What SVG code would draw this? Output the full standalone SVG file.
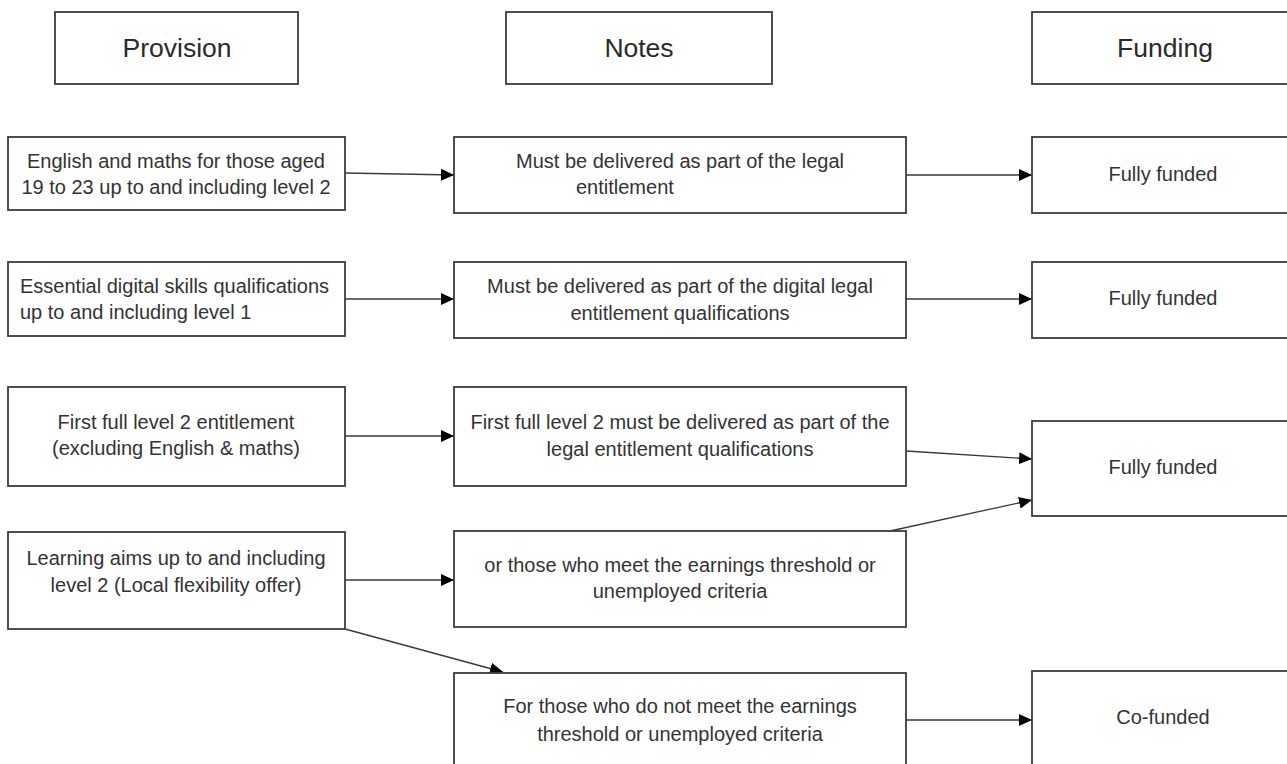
<svg xmlns="http://www.w3.org/2000/svg" width="1287" height="764" viewBox="0 0 1287 764">
<style>
  .box { fill: #ffffff; stroke: #3c3c3c; stroke-width: 1.8; }
  .t { font-family: "Liberation Sans", Arial, sans-serif; font-size: 20px; fill: #333333; text-anchor: middle; }
  .ts { font-family: "Liberation Sans", Arial, sans-serif; font-size: 20px; fill: #333333; text-anchor: start; }
  .h { font-family: "Liberation Sans", Arial, sans-serif; font-size: 26.5px; fill: #2a2a2a; text-anchor: middle; }
  .c { stroke: #3a3a3a; stroke-width: 1.3; fill: none; marker-end: url(#ah); }
</style>
<defs>
  <marker id="ah" markerUnits="userSpaceOnUse" markerWidth="14" markerHeight="12" refX="13" refY="6" orient="auto">
    <path d="M0,0 L13,6 L0,12 Z" fill="#000000"/>
  </marker>
</defs>
<rect width="1287" height="764" fill="#ffffff"/>

<g id="connectors">
  <line class="c" x1="345" y1="173" x2="454" y2="175"/>
  <line class="c" x1="906" y1="175" x2="1032" y2="175"/>
  <line class="c" x1="345" y1="299" x2="454" y2="299"/>
  <line class="c" x1="906" y1="299" x2="1032" y2="299"/>
  <line class="c" x1="345" y1="436" x2="454" y2="436"/>
  <line class="c" x1="906" y1="451" x2="1032" y2="459"/>
  <line class="c" x1="345" y1="580" x2="454" y2="580"/>
  <line class="c" x1="890" y1="531" x2="1032" y2="500"/>
  <line class="c" x1="345" y1="629" x2="503" y2="672"/>
  <line class="c" x1="906" y1="720" x2="1032" y2="720"/>
</g>

<g id="header-provision">
  <rect class="box" x="55" y="12" width="243" height="72"/>
  <text class="h" x="177" y="57">Provision</text>
</g>
<g id="header-notes">
  <rect class="box" x="506" y="12" width="266" height="72"/>
  <text class="h" x="639" y="57">Notes</text>
</g>
<g id="header-funding">
  <rect class="box" x="1032" y="12" width="270" height="72"/>
  <text class="h" x="1165" y="57">Funding</text>
</g>

<g id="prov-1">
  <rect class="box" x="8" y="137" width="337" height="73"/>
  <text class="t" x="176" y="168">English and maths for those aged</text>
  <text class="t" x="176" y="194">19 to 23 up to and including level 2</text>
</g>
<g id="notes-1">
  <rect class="box" x="454" y="137" width="452" height="76"/>
  <text class="t" x="680" y="168">Must be delivered as part of the legal</text>
  <text class="ts" x="576" y="194">entitlement</text>
</g>
<g id="fund-1">
  <rect class="box" x="1032" y="137" width="270" height="76"/>
  <text class="t" x="1163" y="181">Fully funded</text>
</g>

<g id="prov-2">
  <rect class="box" x="8" y="262" width="337" height="74"/>
  <text class="ts" x="20" y="293">Essential digital skills qualifications</text>
  <text class="ts" x="20" y="319">up to and including level 1</text>
</g>
<g id="notes-2">
  <rect class="box" x="454" y="262" width="452" height="76"/>
  <text class="t" x="680" y="293">Must be delivered as part of the digital legal</text>
  <text class="t" x="680" y="320">entitlement qualifications</text>
</g>
<g id="fund-2">
  <rect class="box" x="1032" y="262" width="270" height="76"/>
  <text class="t" x="1163" y="305">Fully funded</text>
</g>

<g id="prov-3">
  <rect class="box" x="8" y="387" width="337" height="99"/>
  <text class="t" x="176" y="429">First full level 2 entitlement</text>
  <text class="t" x="176" y="455">(excluding English &amp; maths)</text>
</g>
<g id="notes-3">
  <rect class="box" x="454" y="387" width="452" height="99"/>
  <text class="t" x="680" y="429">First full level 2 must be delivered as part of the</text>
  <text class="t" x="680" y="456">legal entitlement qualifications</text>
</g>
<g id="fund-3">
  <rect class="box" x="1032" y="421" width="270" height="95"/>
  <text class="t" x="1163" y="474">Fully funded</text>
</g>

<g id="prov-4">
  <rect class="box" x="8" y="532" width="337" height="97"/>
  <text class="t" x="176" y="565">Learning aims up to and including</text>
  <text class="t" x="176" y="592">level 2 (Local flexibility offer)</text>
</g>
<g id="notes-4">
  <rect class="box" x="454" y="531" width="452" height="96"/>
  <text class="t" x="680" y="572">or those who meet the earnings threshold or</text>
  <text class="t" x="680" y="598">unemployed criteria</text>
</g>

<g id="notes-5">
  <rect class="box" x="454" y="673" width="452" height="120"/>
  <text class="t" x="680" y="713">For those who do not meet the earnings</text>
  <text class="t" x="680" y="741">threshold or unemployed criteria</text>
</g>
<g id="fund-5">
  <rect class="box" x="1032" y="671" width="270" height="120"/>
  <text class="t" x="1163" y="724">Co-funded</text>
</g>
</svg>
